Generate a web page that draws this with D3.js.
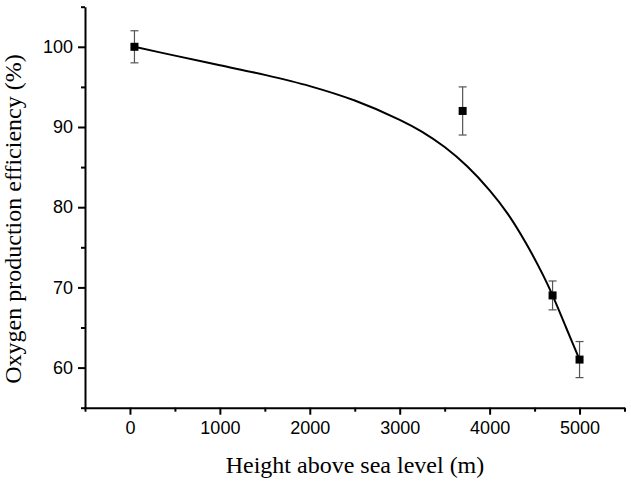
<!DOCTYPE html>
<html>
<head>
<meta charset="utf-8">
<script src="https://cdn.jsdelivr.net/npm/d3@7"></script>
<style>
  body { margin: 0; background: #fff; }
  svg { display: block; }
</style>
</head>
<body>
<svg id="chart"></svg>
<script>
// measured points with error bars
const heights = [50, 3700, 4700, 5000];
const efficiency = [100, 92, 69, 61];
const errors = [2, 3, 1.8, 2.25];

// fitted curve
const fitX = [50, 500, 1000, 1500, 2000, 2500, 3000, 3250, 3500, 3750, 4000, 4200, 4400, 4600, 4700, 4850, 5000];
const fitY = [100, 98.9, 97.7, 96.5, 95.1, 93.3, 90.9, 89.4, 87.5, 85.1, 82.1, 79.2, 75.6, 71.4, 69.0, 65.0, 61.0];

const xTicks = [0, 1000, 2000, 3000, 4000, 5000];
const xMinor = [-500, 500, 1500, 2500, 3500, 4500, 5500];
const yTicks = [60, 70, 80, 90, 100];
const yMinor = [55, 65, 75, 85, 95, 105];

const width = 631, height = 484;
const svg = d3.select("#chart").attr("width", width).attr("height", height);

const x = d3.scaleLinear().domain([-500, 5500]).range([85, 624.5]);
const y = d3.scaleLinear().domain([55, 105]).range([407.7, 6.7]);

// minor ticks first
svg.append("g")
  .attr("transform", `translate(0,${y(55)})`)
  .call(d3.axisBottom(x).tickValues(xMinor).tickSize(4).tickFormat(""))
  .call(g => g.select(".domain").remove())
  .call(g => g.selectAll("line").attr("stroke-width", 2));

svg.append("g")
  .attr("transform", `translate(${x(-500)},0)`)
  .call(d3.axisLeft(y).tickValues(yMinor).tickSize(4).tickFormat(""))
  .call(g => g.select(".domain").remove())
  .call(g => g.selectAll("line").attr("stroke-width", 2));

const xAxis = svg.append("g")
  .attr("transform", `translate(0,${y(55)})`)
  .call(d3.axisBottom(x).tickValues(xTicks).tickSize(7).tickSizeOuter(0).tickPadding(7).tickFormat(d3.format("d")));
xAxis.select(".domain").attr("stroke-width", 2);
xAxis.selectAll("line").attr("stroke-width", 2);
xAxis.selectAll("text")
  .style("font-family", "Liberation Sans, Arial, sans-serif")
  .style("font-size", "18px")
  .attr("fill", "#000");

const yAxis = svg.append("g")
  .attr("transform", `translate(${x(-500)},0)`)
  .call(d3.axisLeft(y).tickValues(yTicks).tickSize(7).tickSizeOuter(0).tickPadding(5));
yAxis.select(".domain").attr("stroke-width", 2);
yAxis.selectAll("line").attr("stroke-width", 2);
yAxis.selectAll("text")
  .style("font-family", "Liberation Sans, Arial, sans-serif")
  .style("font-size", "18px")
  .attr("fill", "#000");

// axis titles
svg.append("text")
  .attr("x", 355)
  .attr("y", 473)
  .attr("text-anchor", "middle")
  .style("font-family", "Liberation Serif, Times New Roman, serif")
  .style("font-size", "24px")
  .text("Height above sea level (m)");

svg.append("text")
  .attr("transform", "translate(21,219) rotate(-90)")
  .attr("text-anchor", "middle")
  .style("font-family", "Liberation Serif, Times New Roman, serif")
  .style("font-size", "24px")
  .text("Oxygen production efficiency (%)");

// fitted curve
const fit = fitX.map((d, i) => [d, fitY[i]]);
const line = d3.line()
  .x(d => x(d[0]))
  .y(d => y(d[1]))
  .curve(d3.curveCatmullRom);

svg.append("path")
  .datum(fit)
  .attr("d", line)
  .attr("fill", "none")
  .attr("stroke", "#000")
  .attr("stroke-width", 2);

// error bars
const pts = heights.map((h, i) => ({ h: h, v: efficiency[i], e: errors[i] }));
const eb = svg.append("g").attr("stroke", "#555").attr("stroke-width", 1.2);
eb.selectAll(".stem").data(pts).enter().append("line")
  .attr("x1", d => x(d.h)).attr("x2", d => x(d.h))
  .attr("y1", d => y(d.v + d.e)).attr("y2", d => y(d.v - d.e));
eb.selectAll(".capTop").data(pts).enter().append("line")
  .attr("x1", d => x(d.h) - 4).attr("x2", d => x(d.h) + 4)
  .attr("y1", d => y(d.v + d.e)).attr("y2", d => y(d.v + d.e));
eb.selectAll(".capBot").data(pts).enter().append("line")
  .attr("x1", d => x(d.h) - 4).attr("x2", d => x(d.h) + 4)
  .attr("y1", d => y(d.v - d.e)).attr("y2", d => y(d.v - d.e));

// square markers
const size = 8;
svg.selectAll(".pt").data(pts).enter().append("rect")
  .attr("x", d => x(d.h) - size / 2)
  .attr("y", d => y(d.v) - size / 2)
  .attr("width", size)
  .attr("height", size)
  .attr("fill", "#000");
</script>
</body>
</html>
